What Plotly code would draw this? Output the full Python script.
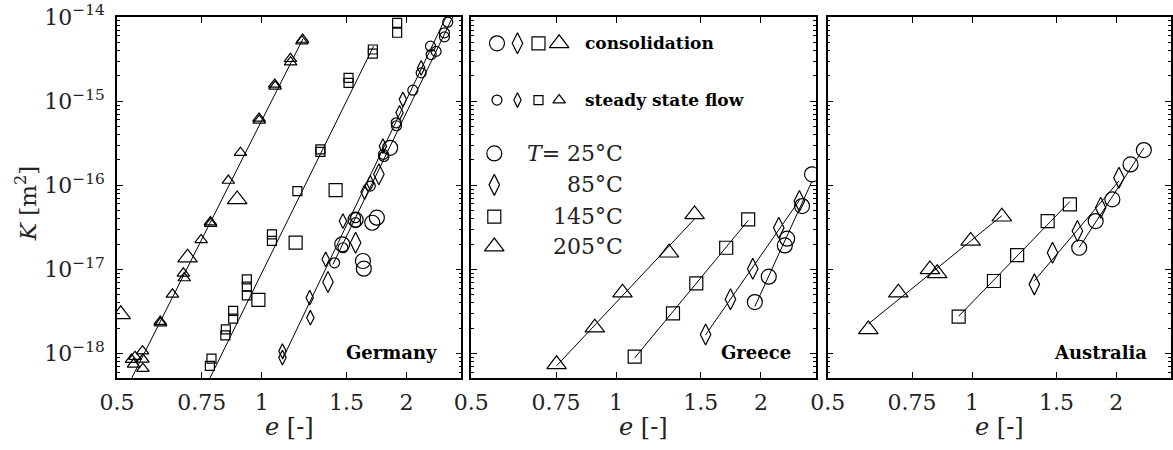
import numpy as np
import plotly.graph_objects as go

# ---------------- data: void ratio e [-] and permeability K [m^2] ----------------
# Germany: steady state flow (small) and consolidation (large) measurements
ger_tri_ss_e = [1.212, 1.216, 1.147, 1.148, 1.064, 1.066, 0.987, 0.988, 0.903, 0.852,
                0.782, 0.783, 0.748, 0.687, 0.690, 0.652, 0.615, 0.616, 0.565, 0.566,
                0.566, 0.536, 0.541, 0.545]
ger_tri_ss_k = [5.16e-15, 5.4e-15, 3.19e-15, 2.91e-15, 1.58e-15, 1.50e-15, 6.23e-16, 5.9e-16,
                2.44e-16, 1.14e-16, 3.66e-17, 3.5e-17, 2.24e-17, 8.99e-18, 7.91e-18, 5.06e-18,
                2.40e-18, 2.3e-18, 1.07e-18, 8.55e-19, 6.63e-19, 8.5e-19, 7.46e-19, 9.2e-19]
ger_tri_co_e = [0.509, 0.701, 0.889]
ger_tri_co_k = [2.93e-18, 1.38e-17, 6.80e-17]

ger_sq_ss_e = [1.912, 1.912, 1.702, 1.702, 1.515, 1.515, 1.324, 1.324, 1.186, 1.050,
               1.050, 0.931, 0.931, 0.931, 0.872, 0.872, 0.842, 0.840, 0.786, 0.780]
ger_sq_ss_k = [8.5e-15, 6.5e-15, 4.11e-15, 3.68e-15, 1.89e-15, 1.65e-15, 2.67e-16, 2.5e-16,
               8.54e-17, 2.61e-17, 2.18e-17, 7.62e-18, 6.24e-18, 4.92e-18, 3.21e-18, 2.60e-18,
               1.94e-18, 1.65e-18, 8.71e-19, 7.13e-19]
ger_sq_co_e = [1.424, 1.176, 0.984]
ger_sq_co_k = [8.78e-17, 2.08e-17, 4.34e-18]

ger_di_ss_e = [1.104, 1.104, 1.262, 1.258, 1.358, 1.475, 1.636, 1.681, 1.786, 1.934, 1.965, 2.145]
ger_di_ss_k = [8.96e-19, 1.07e-18, 2.67e-18, 4.62e-18, 1.32e-17, 3.76e-17, 8.31e-17, 1.07e-16,
               2.92e-16, 7.28e-16, 1.05e-15, 2.49e-15]
ger_di_co_e = [1.752, 1.567, 1.373]
ger_di_co_k = [1.35e-16, 2.08e-17, 7.09e-18]

ger_ci_ss_e = [1.417, 1.475, 1.567, 1.567, 1.681, 1.791, 1.795, 1.903, 1.906, 2.061, 2.145,
               2.243, 2.250, 2.304, 2.398, 2.398, 2.436]
ger_ci_ss_k = [1.20e-17, 1.81e-17, 4.12e-17, 3.6e-17, 9.8e-17, 2.33e-16, 2.2e-16, 5.53e-16,
               5.1e-16, 1.35e-15, 2.17e-15, 4.5e-15, 3.58e-15, 3.9e-15, 6.49e-15, 5.81e-15, 8.68e-15]
ger_ci_co_e = [1.470, 1.567, 1.623, 1.630, 1.735, 1.697, 1.849]
ger_ci_co_k = [1.99e-17, 3.9e-17, 1.26e-17, 1.02e-17, 4.12e-17, 3.59e-17, 2.79e-16]

# Germany power-law fit lines (end points)
ger_tri_fit_e = [0.5364, 1.218]
ger_tri_fit_k = [5.1e-19, 5.5e-15]
ger_sq_fit_e = [0.780, 1.708]
ger_sq_fit_k = [5.1e-19, 4.5e-15]
ger_di_fit_e = [1.104, 2.416]
ger_di_fit_k = [8.55e-19, 1.0e-14]
ger_ci_fit_e = [1.406, 2.495]
ger_ci_fit_k = [1.15e-17, 1.0e-14]

# Greece: consolidation
gre_tri_e = [0.752, 0.903, 1.031, 1.288, 1.456]
gre_tri_k = [7.46e-19, 2.03e-18, 5.3e-18, 1.58e-17, 4.51e-17]
gre_sq_e = [1.093, 1.313, 1.468, 1.694, 1.882]
gre_sq_k = [9.2e-19, 3.01e-18, 6.84e-18, 1.81e-17, 3.94e-17]
gre_di_e = [1.535, 1.729, 1.924, 2.179, 2.405]
gre_di_k = [1.69e-18, 4.42e-18, 1.02e-17, 3.13e-17, 6.5e-17]
gre_ci_e = [1.943, 2.077, 2.243, 2.268, 2.436, 2.555]
gre_ci_k = [4.1e-18, 8.2e-18, 1.93e-17, 2.32e-17, 5.67e-17, 1.35e-16]

# Australia: consolidation
aus_tri_e = [0.608, 0.702, 0.817, 0.846, 0.9935, 1.154]
aus_tri_k = [1.94e-18, 5.3e-18, 1.0e-17, 8.99e-18, 2.18e-17, 4.23e-17]
aus_sq_e = [0.938, 1.111, 1.242, 1.438, 1.600]
aus_sq_k = [2.75e-18, 7.29e-18, 1.48e-17, 3.76e-17, 5.93e-17]
aus_di_e = [1.349, 1.472, 1.659, 1.855, 2.025]
aus_di_k = [6.65e-18, 1.58e-17, 2.86e-17, 5.42e-17, 1.23e-16]
aus_ci_e = [1.673, 1.811, 1.962, 2.141, 2.282]
aus_ci_k = [1.81e-17, 3.76e-17, 6.8e-17, 1.77e-16, 2.62e-16]

# axis ticks
x_ticks = [0.5, 0.75, 1, 1.5, 2]
x_ticktext = ["0.5", "0.75", "1", "1.5", "2"]
y_ticks = [1e-18, 1e-17, 1e-16, 1e-15, 1e-14]
y_ticktext = ["10<sup>\u221218</sup>", "10<sup>\u221217</sup>", "10<sup>\u221216</sup>",
              "10<sup>\u221215</sup>", "10<sup>\u221214</sup>"]
panel_names = ["Germany", "Greece", "Australia"]
temperature_labels = ["<i>T</i>= 25\u00b0C", "85\u00b0C", "145\u00b0C", "205\u00b0C"]

# ---------------- styling ----------------
FONT = "DejaVu Serif"
SYM = {"ci": "circle-open", "di": "diamond-tall-open", "sq": "square-open", "tri": "triangle-up-open"}
SIZE_CO = {"ci": 15, "di": 15, "sq": 13, "tri": 17}
SIZE_SS = {"ci": 10, "di": 10.5, "sq": 9, "tri": 11}
MLW = 1.2

fig = go.Figure()


def markers(e, k, kind, big, ax):
    size = SIZE_CO[kind] if big else SIZE_SS[kind]
    fig.add_trace(go.Scatter(
        x=e, y=k, mode="markers", xaxis="x" + ax, yaxis="y" + ax,
        marker=dict(symbol=SYM[kind], size=size, color="black", line=dict(width=MLW, color="black")),
        showlegend=False, hoverinfo="skip"))


def line(e, k, ax):
    fig.add_trace(go.Scatter(
        x=e, y=k, mode="lines", xaxis="x" + ax, yaxis="y" + ax,
        line=dict(color="black", width=1), showlegend=False, hoverinfo="skip"))


def fitted_line(e, k, ax):
    # power-law fit K = a * e^b through the series, drawn over its e-range
    b, a = np.polyfit(np.log10(e), np.log10(k), 1)
    ee = np.array([min(e), max(e)])
    line(ee, 10 ** (a + b * np.log10(ee)), ax)


# Germany
for e, k in [(ger_tri_fit_e, ger_tri_fit_k), (ger_sq_fit_e, ger_sq_fit_k),
             (ger_di_fit_e, ger_di_fit_k), (ger_ci_fit_e, ger_ci_fit_k)]:
    line(e, k, "")
markers(ger_tri_ss_e, ger_tri_ss_k, "tri", False, "")
markers(ger_tri_co_e, ger_tri_co_k, "tri", True, "")
markers(ger_sq_ss_e, ger_sq_ss_k, "sq", False, "")
markers(ger_sq_co_e, ger_sq_co_k, "sq", True, "")
markers(ger_di_ss_e, ger_di_ss_k, "di", False, "")
markers(ger_di_co_e, ger_di_co_k, "di", True, "")
markers(ger_ci_ss_e, ger_ci_ss_k, "ci", False, "")
markers(ger_ci_co_e, ger_ci_co_k, "ci", True, "")

# Greece and Australia
for ax, series in [("2", [(gre_tri_e, gre_tri_k, "tri"), (gre_sq_e, gre_sq_k, "sq"),
                          (gre_di_e, gre_di_k, "di"), (gre_ci_e, gre_ci_k, "ci")]),
                   ("3", [(aus_tri_e, aus_tri_k, "tri"), (aus_sq_e, aus_sq_k, "sq"),
                          (aus_di_e, aus_di_k, "di"), (aus_ci_e, aus_ci_k, "ci")])]:
    for e, k, kind in series:
        fitted_line(e, k, ax)
        markers(e, k, kind, True, ax)

# ---------------- legend (drawn inside the Greece panel, on a unit overlay axis) ----------------
leg_sym_x = [0.0745, 0.134, 0.195, 0.255]
leg_rows_y = [0.927, 0.770]
leg_kinds = ["ci", "di", "sq", "tri"]
for row_y, big in zip(leg_rows_y, [True, False]):
    for xx, kind in zip(leg_sym_x, leg_kinds):
        fig.add_trace(go.Scatter(
            x=[xx], y=[row_y], mode="markers", xaxis="x4", yaxis="y4",
            marker=dict(symbol=SYM[kind], size=SIZE_CO[kind] if big else SIZE_SS[kind],
                        color="black", line=dict(width=MLW, color="black")),
            showlegend=False, hoverinfo="skip"))
temp_rows_y = [0.622, 0.535, 0.447, 0.364]
for yy, kind in zip(temp_rows_y, leg_kinds):
    fig.add_trace(go.Scatter(
        x=[0.0667], y=[yy], mode="markers", xaxis="x4", yaxis="y4",
        marker=dict(symbol=SYM[kind], size=SIZE_CO[kind], color="black",
                    line=dict(width=MLW, color="black")),
        showlegend=False, hoverinfo="skip"))

annotations = []
for txt, yy in zip(["<b>consolidation</b>", "<b>steady state flow</b>"], leg_rows_y):
    annotations.append(dict(x=0.3255, y=yy, xref="x4", yref="y4", text=txt, showarrow=False,
                            xanchor="left", yanchor="middle", font=dict(family=FONT, size=17, color="black")))
for txt, yy in zip(temperature_labels, temp_rows_y):
    annotations.append(dict(x=0.4455, y=yy, xref="x4", yref="y4", text=txt, showarrow=False,
                            xanchor="right", yanchor="middle", font=dict(family=FONT, size=22, color="#222")))

# panel names
for ax, name in zip(["x", "x2", "x3"], panel_names):
    annotations.append(dict(x=0.935, y=0.072, xref=ax + " domain", yref="y domain", text="<b>" + name + "</b>",
                            showarrow=False, xanchor="right", yanchor="middle",
                            font=dict(family=FONT, size=18, color="black")))

# axis titles
for ax in ["x", "x2", "x3"]:
    annotations.append(dict(x=0.5, y=-0.136, xref=ax + " domain", yref="paper", text="<i>e</i> [-]",
                            showarrow=False, xanchor="center", yanchor="middle",
                            font=dict(family=FONT, size=24, color="#222")))
annotations.append(dict(x=-0.086, y=0.485, xref="paper", yref="paper", text="<i>K</i> [m<sup>2</sup>]",
                        textangle=-90, showarrow=False, xanchor="center", yanchor="middle",
                        font=dict(family=FONT, size=23, color="#222")))

# ---------------- axes ----------------
W, H = 1173, 450
ML, MR, MT, MB = 117, 0, 17, 72
PW = W - ML - MR
domains = [[0, 345 / PW], [355 / PW, 700 / PW], [712 / PW, 1.0]]
xr = [np.log10(0.5), np.log10(2.6)]
yr = [-18.29, -14.0]
minor_y = [m * 10.0 ** d for d in range(-19, -14) for m in range(2, 10)]

common_x = dict(type="log", range=xr, tickmode="array", tickvals=x_ticks, ticktext=x_ticktext,
                ticks="inside", ticklen=6, tickwidth=1, tickcolor="black", mirror="allticks",
                showline=True, linecolor="black", linewidth=1.6, showgrid=False, zeroline=False,
                tickfont=dict(family=FONT, size=22, color="#222"), ticklabelstandoff=4)
common_y = dict(type="log", range=yr, tickmode="array", tickvals=y_ticks, ticktext=y_ticktext,
                ticks="inside", ticklen=6, tickwidth=1, tickcolor="black", mirror="allticks",
                showline=True, linecolor="black", linewidth=1.6, showgrid=False, zeroline=False,
                minor=dict(tickmode="array", tickvals=minor_y, ticks="inside", ticklen=3,
                           tickwidth=1, tickcolor="black", showgrid=False),
                tickfont=dict(family=FONT, size=22, color="#222"), ticklabelstandoff=6)

layout = dict(
    width=W, height=H, margin=dict(l=ML, r=MR, t=MT, b=MB),
    paper_bgcolor="white", plot_bgcolor="white", showlegend=False,
    annotations=annotations,
)
for i, dom in enumerate(domains):
    sfx = "" if i == 0 else str(i + 1)
    layout["xaxis" + sfx] = dict(common_x, domain=dom, anchor="y" + sfx)
    layout["yaxis" + sfx] = dict(common_y, anchor="x" + sfx, showticklabels=(i == 0))
layout["xaxis4"] = dict(overlaying="x2", range=[0, 1], visible=False, anchor="y4")
layout["yaxis4"] = dict(overlaying="y2", range=[0, 1], visible=False, anchor="x4")

fig.update_layout(**layout)
fig.write_html("out.html")
